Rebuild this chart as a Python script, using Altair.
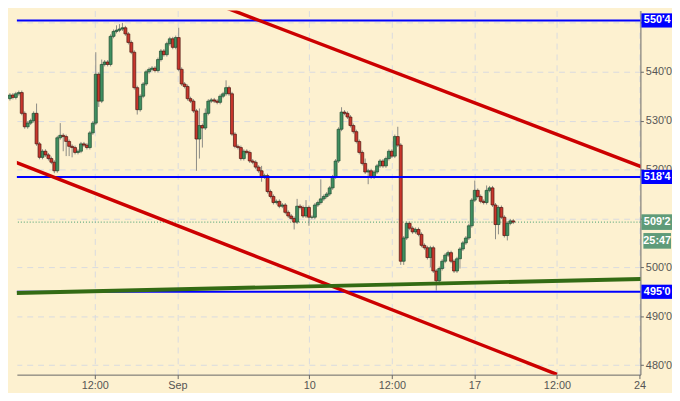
import altair as alt
import pandas as pd

# ---------------- data ----------------
# hourly closes, left to right
CLOSE = [
    535.25, 534.75, 535.5, 535.75, 531.5, 528.75, 529.5, 530.0, 531.5, 525.25,
    522.5, 523.75, 523.0, 522.25, 521.5, 519.75, 526.5, 527.0, 526.75, 525.75,
    524.75, 524.5, 523.5, 523.75, 525.25, 525.0, 524.5, 527.5, 529.5, 539.5,
    534.0, 541.5, 542.0, 541.5, 547.25, 548.25, 548.5, 548.75, 549.0, 547.75,
    546.0, 544.0, 536.75, 532.25, 535.0, 537.5, 540.0, 540.5, 540.75, 540.25,
    542.5, 544.25, 543.5, 545.75, 546.75, 545.0, 547.0, 540.5, 537.5, 537.0,
    534.5, 534.0, 532.0, 526.25, 529.0, 528.5, 531.5, 534.0, 534.25, 534.0,
    533.75, 535.0, 535.5, 536.75, 535.5, 527.25, 524.75, 524.5, 522.25, 523.75,
    523.5, 521.75, 521.5, 520.5, 519.75, 518.5, 518.75, 515.5, 514.5, 513.25,
    513.5, 512.5, 512.75, 511.25, 510.5, 510.0, 509.25, 512.5, 512.25, 510.5,
    512.25, 510.25, 510.25, 512.75, 513.25, 514.0, 514.5, 515.0, 516.25, 518.5,
    521.75, 528.25, 531.75, 531.5, 530.75, 529.0, 527.75, 525.75, 523.5, 521.25,
    519.5, 519.75, 518.5, 519.5, 520.75, 521.75, 520.75, 522.25, 523.75, 522.75,
    526.75, 525.0, 501.25, 506.0, 509.0, 508.0, 507.25, 507.75, 506.75, 504.5,
    504.0, 502.0, 504.0, 499.25, 497.25, 499.75, 501.25, 502.5, 503.0, 501.25,
    499.25, 501.75, 503.75, 505.0, 506.0, 508.5, 513.75, 515.75, 514.5, 513.5,
    513.25, 515.75, 516.25, 512.75, 508.75, 512.25, 510.25, 506.5, 509.0, 509.5,
    509.25,
]
FIRST_OPEN = 534.5
DEFAULT_WICK = 0.4
# notable wicks (bar index -> length above / below the body)
WICK_UP = {9: 2.0, 17: 2.5, 29: 4.5, 31: 1.0, 36: 1.0, 37: 1.0, 38: 1.0, 57: 2.0,
           64: 3.5, 66: 1.0, 73: 1.5, 85: 1.0, 97: 1.5, 100: 1.5, 105: 4.0,
           112: 1.0, 120: 1.0, 131: 2.0, 157: 2.0, 161: 1.0}
WICK_DN = {15: 0.5, 18: 3.0, 19: 3.0, 20: 2.0, 21: 2.0, 30: 1.2, 43: 1.0, 63: 6.5,
           64: 4.0, 65: 4.0, 85: 1.0, 96: 1.5, 101: 1.75, 121: 2.5, 132: 0.75,
           133: 0.75, 142: 2.0, 144: 2.0, 152: 2.0, 164: 3.0, 165: 2.0, 168: 1.0}
BARS_PER_DAY = 11.15
FIRST_BAR_DAY = -0.07

X_TICKS = [0, 2.5, 5, 9, 11.5, 14, 16.5, 19]
X_LABELS = ["27", "12:00", "Sep", "10", "12:00", "17", "12:00", "24"]
Y_TICKS = [480, 490, 500, 510, 520, 530, 540, 550]
Y_HIDDEN = [510, 550]          # labels covered by the price boxes
X_DOMAIN = [0.1405, 19.029]
Y_DOMAIN = [478.05, 552.52]

LEVELS = [550.5, 518.5, 495.0]
LEVEL_LABELS = ["550'4", "518'4", "495'0"]
LAST_PRICE = 509.25
LAST_LABEL = "509'2"
COUNTDOWN = "25:47"

UPPER_RED_DAY = [4.0, 19.2]
UPPER_RED_PRICE = [559.48, 520.22]
LOWER_RED_DAY = [-0.5, 16.5]
LOWER_RED_PRICE = [523.1, 478.1]
GREEN_DAY = [-0.5, 19.2]
GREEN_PRICE = [494.67, 497.65]

# ---------------- styling ----------------
BG = "#fdf1d0"
GRID = "#d8dae0"
UP_FILL, UP_STROKE = "#3f8f60", "#1d4a30"
DN_FILL, DN_STROKE = "#c8362c", "#4a140e"
WICK = "#8a8a84"
BLUE = "#0000ff"
RED = "#cc0000"
DKGREEN = "#336b14"
PRICE_GREEN = "#5f9b79"
FONT = "Liberation Sans"
W, H = 632, 369

# ---------------- build tables ----------------
opens = [FIRST_OPEN] + CLOSE[:-1]
rows = []
for i, c in enumerate(CLOSE):
    o = opens[i]
    rows.append(dict(
        t=FIRST_BAR_DAY + i / BARS_PER_DAY,
        open=o, close=c,
        high=max(o, c) + WICK_UP.get(i, DEFAULT_WICK),
        low=min(o, c) - WICK_DN.get(i, DEFAULT_WICK),
    ))
candles = pd.DataFrame(rows)

BOX_HALF = 1.45  # price units (about 7px)
levels = pd.DataFrame({"price": LEVELS, "label": LEVEL_LABELS})
levels["lo"] = levels["price"] - BOX_HALF
levels["hi"] = levels["price"] + BOX_HALF
last = pd.DataFrame({"price": [LAST_PRICE], "label": [LAST_LABEL], "cd": [COUNTDOWN]})
last["lo"] = last["price"] - 1.6
last["hi"] = last["price"] + 1.6

def seg(days, prices):
    return pd.DataFrame({"t": days, "p": prices})

upper_red = seg(UPPER_RED_DAY, UPPER_RED_PRICE)
lower_red = seg(LOWER_RED_DAY, LOWER_RED_PRICE)
green_line = seg(GREEN_DAY, GREEN_PRICE)

xs = alt.Scale(domain=X_DOMAIN, nice=False, zero=False, padding=0)
ys = alt.Scale(domain=Y_DOMAIN, nice=False, zero=False, padding=0)

x_label_expr = ("[" + ",".join("'%s'" % l for l in X_LABELS) + "][indexof(["
                + ",".join(str(v) for v in X_TICKS) + "], datum.value)]")
y_label_expr = ("indexof([" + ",".join(str(v) for v in Y_HIDDEN)
                + "], datum.value) >= 0 ? '' : datum.value + \"'0\"")

x_axis = alt.Axis(values=X_TICKS, labelExpr=x_label_expr, grid=True, gridColor=GRID,
                  gridDash=[6, 5], tickSize=4, tickColor="#666", domainColor="#666",
                  labelColor="#555", labelFontSize=11, labelFont=FONT, labelPadding=1,
                  title=None, labelFlush=False)
y_axis = alt.Axis(orient="right", values=Y_TICKS, labelExpr=y_label_expr,
                  grid=True, gridColor=GRID, gridDash=[6, 5], tickSize=3,
                  tickColor="#666", domainColor="#666", labelColor="#555",
                  labelFontSize=11, labelFont=FONT, labelPadding=2, title=None)

def X(field):
    return alt.X(field, scale=xs, axis=x_axis)

def Y(field):
    return alt.Y(field, scale=ys, axis=y_axis)

base = alt.Chart(candles)

wicks = base.mark_rule(color=WICK, strokeWidth=1).encode(
    x=X("t:Q"), y=Y("low:Q"), y2="high:Q",
)

dotted = alt.Chart(last).mark_rule(color="#3e9a6c", strokeWidth=1, strokeDash=[1, 2]).encode(
    y=Y("price:Q"),
)

cond_fill = alt.condition("datum.close >= datum.open", alt.value(UP_FILL), alt.value(DN_FILL))
cond_stroke = alt.condition("datum.close >= datum.open", alt.value(UP_STROKE), alt.value(DN_STROKE))
bodies = base.mark_bar(width=3, strokeWidth=0.7).encode(
    x=X("t:Q"), y=Y("open:Q"), y2="close:Q",
    fill=cond_fill, stroke=cond_stroke,
)

hlines = alt.Chart(levels).mark_rule(color=BLUE, strokeWidth=2).encode(
    y=Y("price:Q"),
)

def tline(df, color, w):
    return alt.Chart(df).mark_line(color=color, strokeWidth=w, clip=True).encode(
        x=X("t:Q"), y=Y("p:Q"),
    )

red1 = tline(upper_red, RED, 3.5)
red2 = tline(lower_red, RED, 3.5)
grn = tline(green_line, DKGREEN, 4)

txt_kw = dict(color="white", fontWeight="bold", fontSize=11, font=FONT,
              align="center", baseline="middle")

lvl_box = alt.Chart(levels).mark_rect(color=BLUE).encode(
    x=alt.value(W + 1), x2=alt.value(W + 32), y=Y("lo:Q"), y2="hi:Q",
)
lvl_txt = alt.Chart(levels).mark_text(**txt_kw).encode(
    x=alt.value(W + 17), y=Y("price:Q"), text="label:N",
)
last_box = alt.Chart(last).mark_rect(color=PRICE_GREEN).encode(
    x=alt.value(W + 1), x2=alt.value(W + 32), y=Y("lo:Q"), y2="hi:Q",
)
last_txt = alt.Chart(last).mark_text(**txt_kw).encode(
    x=alt.value(W + 17), y=Y("price:Q"), text="label:N",
)
cd_box = alt.Chart(last).mark_rect(color=PRICE_GREEN, yOffset=19, y2Offset=19).encode(
    x=alt.value(W + 3), x2=alt.value(W + 31), y=Y("lo:Q"), y2="hi:Q",
)
cd_txt = alt.Chart(last).mark_text(dy=19, **txt_kw).encode(
    x=alt.value(W + 17), y=Y("price:Q"), text="cd:N",
)

chart = alt.layer(
    wicks, dotted, bodies, hlines, red1, red2, grn,
    lvl_box, lvl_txt, last_box, last_txt, cd_box, cd_txt,
).properties(
    width=W, height=H, background=BG, padding=0,
).configure_view(stroke=None, fill=BG)

chart.save("out.html", embed_options={"renderer": "svg", "actions": False})
